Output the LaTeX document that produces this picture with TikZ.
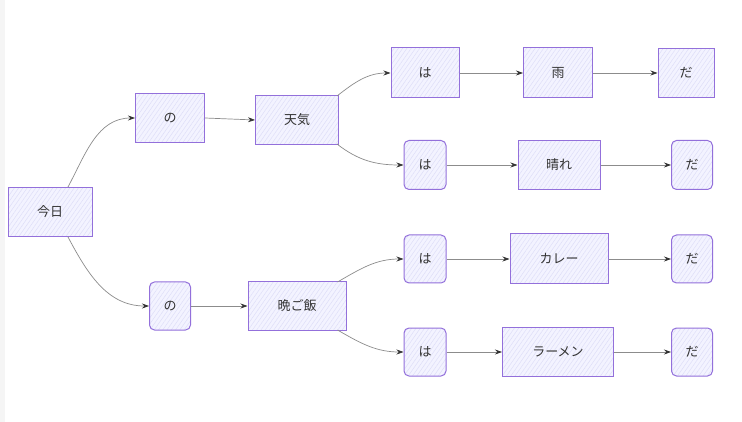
\documentclass[tikz,border=0pt]{standalone}
\usepackage{fontspec}
\setmainfont{Noto Sans CJK JP}
\usetikzlibrary{arrows.meta,patterns.meta,calc}
\definecolor{boxfill}{HTML}{F3F3FF}
\definecolor{hatch}{HTML}{DEDEF8}
\definecolor{boxline}{HTML}{9370DB}
\definecolor{txt}{HTML}{333333}
\definecolor{edge}{HTML}{8C8C8C}
\tikzset{
  box/.style={draw=boxline, line width=1pt, text=txt,
    font=\fontsize{13pt}{15pt}\selectfont, inner sep=0pt,
    preaction={fill=boxfill},
    preaction={pattern={Lines[angle=55,distance=3.5pt,line width=0.5pt]}, pattern color=hatch}},
  rbox/.style={box, rounded corners=5pt},
  conn/.style={draw=edge, line width=0.7pt, -{Stealth[length=7pt,width=5pt,fill=txt,color=txt]}}
}
\begin{document}
\begin{tikzpicture}[x=1pt,y=-1pt]
\useasboundingbox (0,0) rectangle (742,422);
\fill[white] (0,0) rectangle (742,422);
\fill[black!4] (0,0) rectangle (5,422);
% nodes
\node[box, minimum width=84pt, minimum height=49pt] (kyo) at (50,212) {今日};
\node[box, minimum width=69pt, minimum height=49pt] (no1) at (170,118) {の};
\node[box, minimum width=83pt, minimum height=49pt] (tenki) at (297,120) {天気};
\node[rbox, minimum width=41pt, minimum height=48pt] (no2) at (170,306) {の};
\node[box, minimum width=98pt, minimum height=49pt] (ban) at (297,306) {晩ご飯};

\node[box, minimum width=68pt, minimum height=50pt] (ha1) at (425,73) {は};
\node[box, minimum width=69pt, minimum height=50pt] (ame) at (558,73) {雨};
\node[box, minimum width=56pt, minimum height=49pt] (da1) at (686,73) {だ};

\node[rbox, minimum width=42pt, minimum height=49pt] (ha2) at (425,165) {は};
\node[box, minimum width=82pt, minimum height=49pt] (hare) at (559,165) {晴れ};
\node[rbox, minimum width=41pt, minimum height=49pt] (da2) at (692,165) {だ};

\node[rbox, minimum width=42pt, minimum height=48pt] (ha3) at (425,259) {は};
\node[box, minimum width=98pt, minimum height=50pt] (curry) at (559,259) {カレー};
\node[rbox, minimum width=41pt, minimum height=48pt] (da3) at (692,259) {だ};

\node[rbox, minimum width=42pt, minimum height=48pt] (ha4) at (425,352) {は};
\node[box, minimum width=111pt, minimum height=49pt] (ramen) at (558,352) {ラーメン};
\node[rbox, minimum width=41pt, minimum height=48pt] (da4) at (692,352) {だ};

% connectors
\draw[conn] ($(kyo.north)+(18,0)$) to[out=62,in=180] (no1.west);
\draw[conn] ($(kyo.south)+(18,0)$) to[out=-62,in=180] (no2.west);
\draw[conn] (no1.east) -- (tenki.west);
\draw[conn] (no2.east) -- (ban.west);
\draw[conn] ($(tenki.north east)+(-2,1)$) to[out=38,in=180] (ha1.west);
\draw[conn] ($(tenki.south east)+(-2,-1)$) to[out=-38,in=180] (ha2.west);
\draw[conn] ($(ban.north east)+(-9,1)$) to[out=30,in=180] (ha3.west);
\draw[conn] ($(ban.south east)+(-9,-1)$) to[out=-30,in=180] (ha4.west);
\draw[conn] (ha1.east) -- (ame.west);
\draw[conn] (ame.east) -- (da1.west);
\draw[conn] (ha2.east) -- (hare.west);
\draw[conn] (hare.east) -- (da2.west);
\draw[conn] (ha3.east) -- (curry.west);
\draw[conn] (curry.east) -- (da3.west);
\draw[conn] (ha4.east) -- (ramen.west);
\draw[conn] (ramen.east) -- (da4.west);
\end{tikzpicture}
\end{document}
